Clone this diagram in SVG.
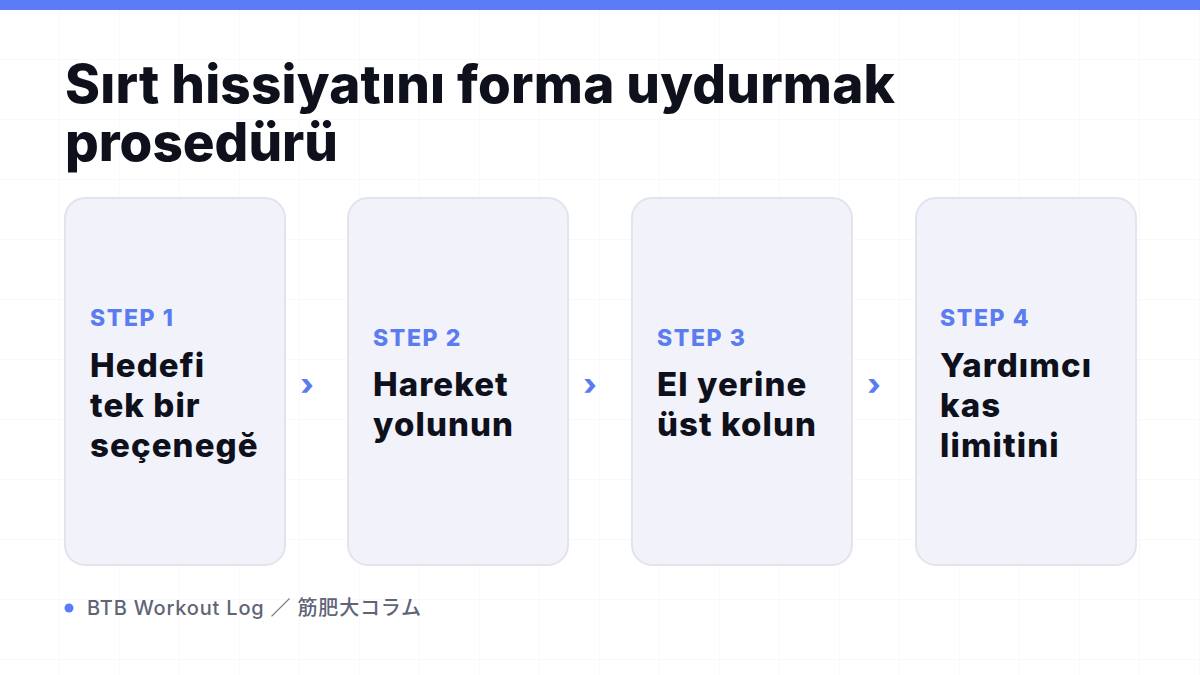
<svg xmlns="http://www.w3.org/2000/svg" width="1200" height="675" viewBox="0 0 1200 675">
<defs>
<pattern id="grid" width="60" height="60" patternUnits="userSpaceOnUse">
<path d="M60 0V60M0 60H60" fill="none" stroke="#f1f2f6" stroke-width="1"/>
</pattern>
<style>
.card{fill:#f1f2fa;stroke:#e1e4ef;stroke-width:2}
.step{font-family:Inter,"Liberation Sans",sans-serif;font-weight:800;font-size:23px;letter-spacing:1.6px;fill:#5b7cf0}
.body{font-family:Inter,"Liberation Sans",sans-serif;font-weight:800;font-size:33px;letter-spacing:1.1px;fill:#0e111c}
.chev{font-family:Inter,"Liberation Sans",sans-serif;font-weight:800;font-size:30px;fill:#5b7cf0;text-anchor:middle}
.title{font-family:Inter,"Liberation Sans",sans-serif;font-weight:800;font-size:53px;fill:#0e111c}
.foot{font-family:Inter,"Noto Sans CJK JP",sans-serif;font-size:20px;font-weight:500;letter-spacing:0.8px;fill:#5f6577}
</style>
</defs>
<rect width="1200" height="675" fill="#ffffff"/>
<rect width="1200" height="675" fill="url(#grid)"/>
<rect width="1200" height="10" fill="#5b7cf6"/>
<g id="title">
<text class="title" x="65" y="103" textLength="830" lengthAdjust="spacing">Sırt hissiyatını forma uydurmak</text>
<text class="title" x="65" y="161">prosedürü</text>
</g>
<g id="step1">
<rect class="card" x="65" y="198" width="220" height="367" rx="20"/>
<text class="step" x="90" y="326">STEP 1</text>
<text class="body" x="90" y="377">Hedefi</text>
<text class="body" x="90" y="417">tek bir</text>
<text class="body" x="90" y="457">seçenegĕ</text>
</g>
<g id="step2">
<rect class="card" x="348" y="198" width="220" height="367" rx="20"/>
<text class="step" x="373" y="346">STEP 2</text>
<text class="body" x="373" y="396">Hareket</text>
<text class="body" x="373" y="436">yolunun</text>
</g>
<g id="step3">
<rect class="card" x="632" y="198" width="220" height="367" rx="20"/>
<text class="step" x="657" y="346">STEP 3</text>
<text class="body" x="657" y="396">El yerine</text>
<text class="body" x="657" y="436">üst kolun</text>
</g>
<g id="step4">
<rect class="card" x="916" y="198" width="220" height="367" rx="20"/>
<text class="step" x="940" y="326">STEP 4</text>
<text class="body" x="940" y="377">Yardımcı</text>
<text class="body" x="940" y="417">kas</text>
<text class="body" x="940" y="457">limitini</text>
</g>
<g id="connectors">
<text class="chev" x="307" y="395">›</text>
<text class="chev" x="590" y="395">›</text>
<text class="chev" x="874" y="395">›</text>
</g>
<g id="footer">
<circle cx="69" cy="608" r="4.5" fill="#5b7cf6"/>
<text class="foot" x="87" y="615">BTB Workout Log ／ 筋肥大コラム</text>
</g>
</svg>
